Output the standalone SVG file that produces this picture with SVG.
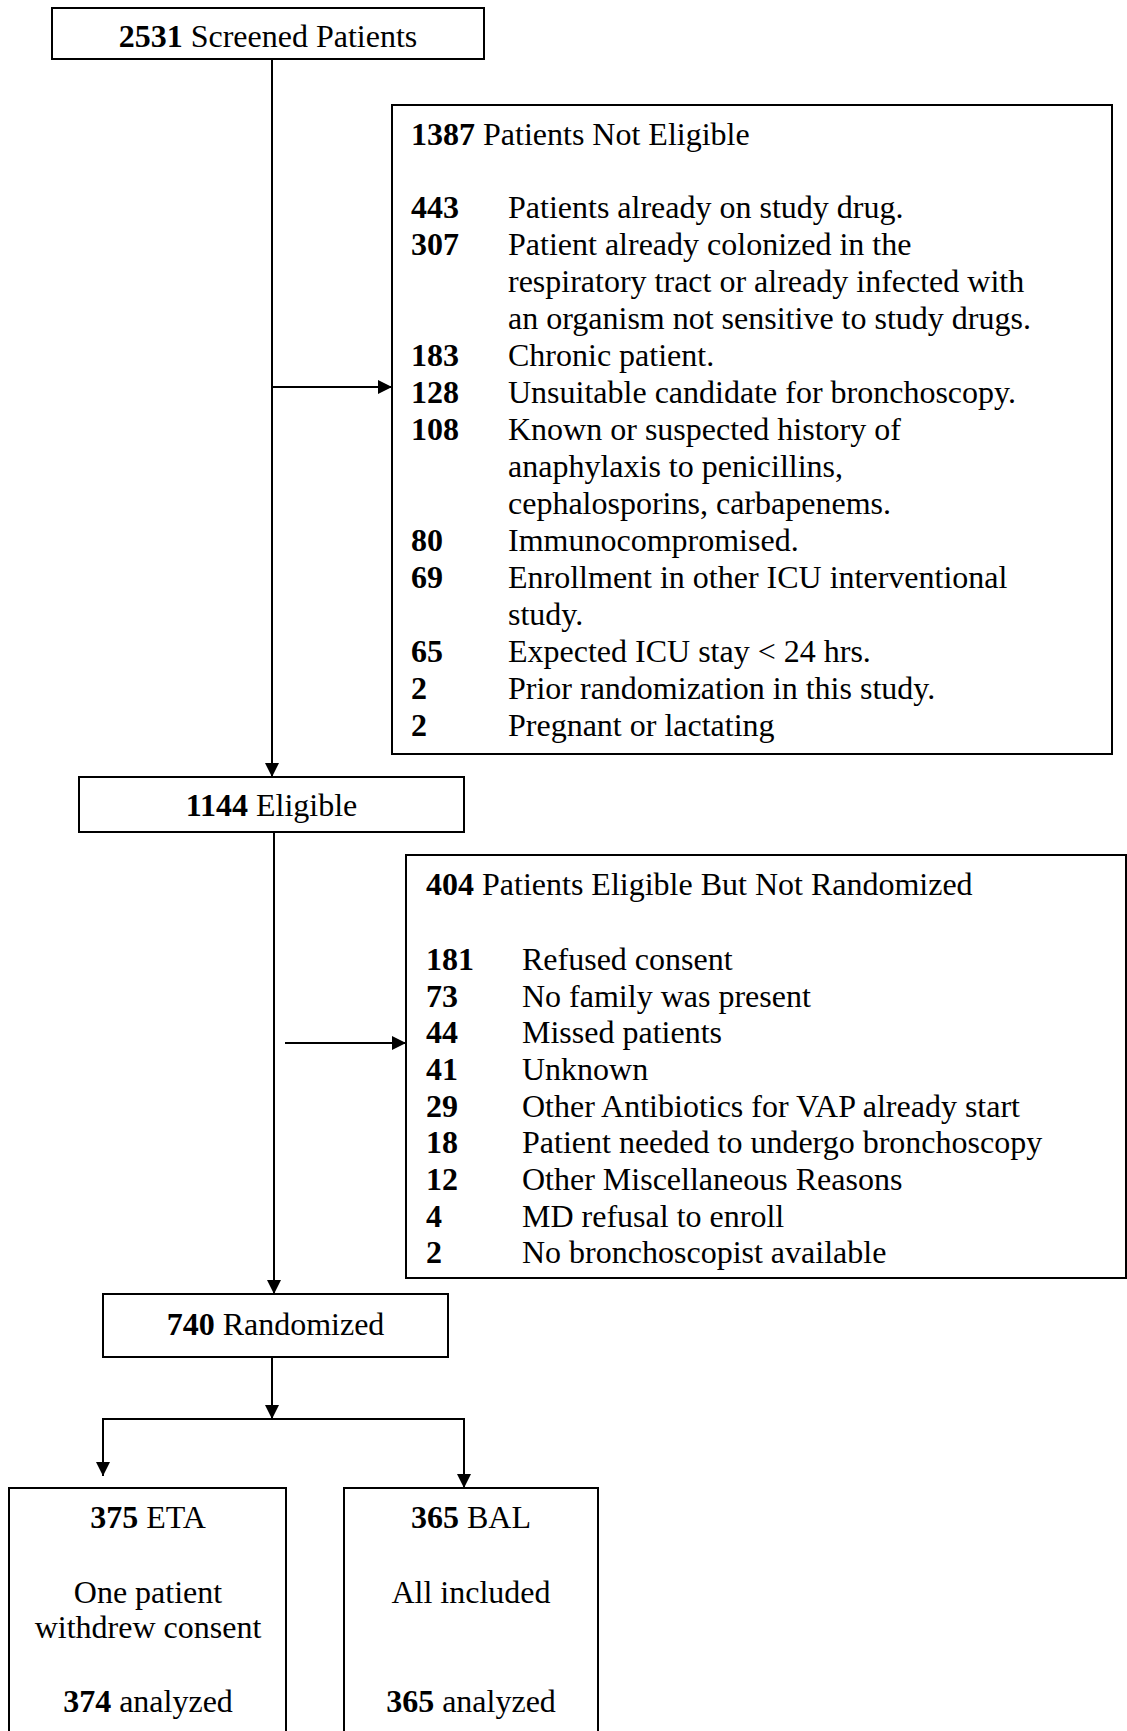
<svg xmlns="http://www.w3.org/2000/svg" width="1127" height="1731" viewBox="0 0 1127 1731">
<style>
.box{fill:#fff;stroke:#000;stroke-width:2}
.t{font-family:"Liberation Serif","Times New Roman",serif;font-size:32px;fill:#000}
.c{text-anchor:middle}
.b{font-weight:bold}
.ln{stroke:#000;stroke-width:2;fill:none}
</style>
<defs>
<marker id="ah" markerUnits="userSpaceOnUse" markerWidth="14" markerHeight="14" refX="14" refY="7" orient="auto">
<path d="M0,0 L14,7 L0,14 z" fill="#000"/>
</marker>
</defs>
<rect width="1127" height="1731" fill="#fff"/>
<g id="connectors">
<line class="ln" x1="272" y1="59" x2="272" y2="777" marker-end="url(#ah)"/>
<line class="ln" x1="272" y1="387" x2="392" y2="387" marker-end="url(#ah)"/>
<line class="ln" x1="274" y1="832" x2="274" y2="1294" marker-end="url(#ah)"/>
<line class="ln" x1="285" y1="1043" x2="406" y2="1043" marker-end="url(#ah)"/>
<line class="ln" x1="272" y1="1357" x2="272" y2="1419" marker-end="url(#ah)"/>
<polyline class="ln" points="103,1476 103,1419 464,1419 464,1488"/>
<line class="ln" x1="103" y1="1430" x2="103" y2="1476" marker-end="url(#ah)"/>
<line class="ln" x1="464" y1="1430" x2="464" y2="1488" marker-end="url(#ah)"/>
</g>
<g id="screened">
<rect class="box" x="52" y="8" width="432" height="51"/>
<text class="t c" x="268" y="47"><tspan class="b">2531</tspan> Screened Patients</text>
</g>
<g id="not-eligible">
<rect class="box" x="392" y="105" width="720" height="649"/>
<text class="t" x="411" y="145"><tspan class="b">1387</tspan> Patients Not Eligible</text>
<g class="t">
<text class="b" x="411" y="218">443</text><text x="508" y="218">Patients already on study drug.</text>
<text class="b" x="411" y="255">307</text><text x="508" y="255">Patient already colonized in the</text>
<text x="508" y="292">respiratory tract or already infected with</text>
<text x="508" y="329">an organism not sensitive to study drugs.</text>
<text class="b" x="411" y="366">183</text><text x="508" y="366">Chronic patient.</text>
<text class="b" x="411" y="403">128</text><text x="508" y="403">Unsuitable candidate for bronchoscopy.</text>
<text class="b" x="411" y="440">108</text><text x="508" y="440">Known or suspected history of</text>
<text x="508" y="477">anaphylaxis to penicillins,</text>
<text x="508" y="514">cephalosporins, carbapenems.</text>
<text class="b" x="411" y="551">80</text><text x="508" y="551">Immunocompromised.</text>
<text class="b" x="411" y="588">69</text><text x="508" y="588">Enrollment in other ICU interventional</text>
<text x="508" y="625">study.</text>
<text class="b" x="411" y="662">65</text><text x="508" y="662">Expected ICU stay &lt; 24 hrs.</text>
<text class="b" x="411" y="699">2</text><text x="508" y="699">Prior randomization in this study.</text>
<text class="b" x="411" y="736">2</text><text x="508" y="736">Pregnant or lactating</text>
</g>
</g>
<g id="eligible">
<rect class="box" x="79" y="777" width="385" height="55"/>
<text class="t c" x="271.5" y="816"><tspan class="b">1144</tspan> Eligible</text>
</g>
<g id="not-randomized">
<rect class="box" x="406" y="855" width="720" height="423"/>
<text class="t" x="426" y="895"><tspan class="b">404</tspan> Patients Eligible But Not Randomized</text>
<g class="t">
<text class="b" x="426" y="970">181</text><text x="522" y="970">Refused consent</text>
<text class="b" x="426" y="1007">73</text><text x="522" y="1007">No family was present</text>
<text class="b" x="426" y="1043">44</text><text x="522" y="1043">Missed patients</text>
<text class="b" x="426" y="1080">41</text><text x="522" y="1080">Unknown</text>
<text class="b" x="426" y="1117">29</text><text x="522" y="1117">Other Antibiotics for VAP already start</text>
<text class="b" x="426" y="1153">18</text><text x="522" y="1153">Patient needed to undergo bronchoscopy</text>
<text class="b" x="426" y="1190">12</text><text x="522" y="1190">Other Miscellaneous Reasons</text>
<text class="b" x="426" y="1227">4</text><text x="522" y="1227">MD refusal to enroll</text>
<text class="b" x="426" y="1263">2</text><text x="522" y="1263">No bronchoscopist available</text>
</g>
</g>
<g id="randomized">
<rect class="box" x="103" y="1294" width="345" height="63"/>
<text class="t c" x="275.5" y="1335"><tspan class="b">740</tspan> Randomized</text>
</g>
<g id="eta">
<rect class="box" x="9" y="1488" width="277" height="270"/>
<text class="t c" x="148" y="1528"><tspan class="b">375</tspan> ETA</text>
<text class="t c" x="148" y="1603">One patient</text>
<text class="t c" x="148" y="1638">withdrew consent</text>
<text class="t c" x="148" y="1712"><tspan class="b">374</tspan> analyzed</text>
</g>
<g id="bal">
<rect class="box" x="344" y="1488" width="254" height="270"/>
<text class="t c" x="471" y="1528"><tspan class="b">365</tspan> BAL</text>
<text class="t c" x="471" y="1603">All included</text>
<text class="t c" x="471" y="1712"><tspan class="b">365</tspan> analyzed</text>
</g>
</svg>
